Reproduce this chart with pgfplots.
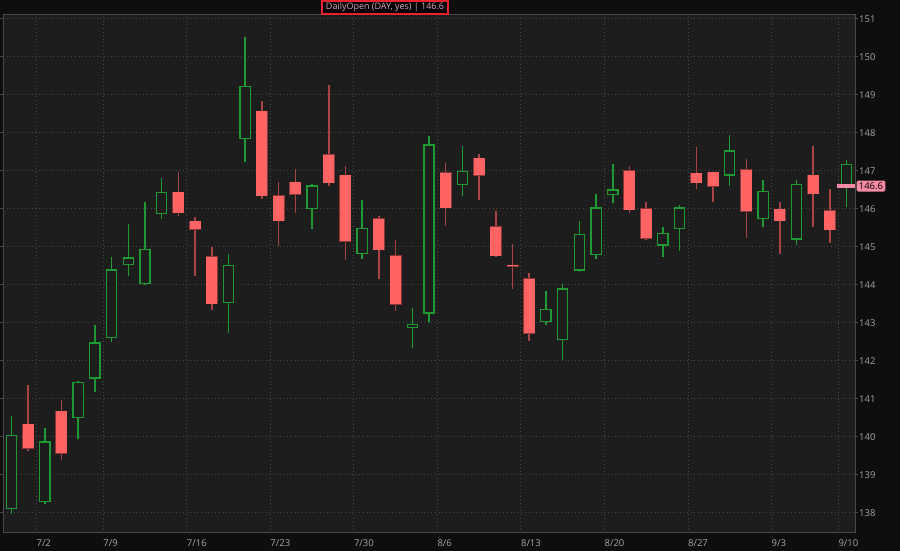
\documentclass[border=0pt]{standalone}
\usepackage{fontspec}
\setmainfont{Open Sans}
\usepackage{pgfplots}
\pgfplotsset{compat=1.18}
\usepackage{pgfplotstable}
\definecolor{outerbg}{HTML}{0E0E0E}
\definecolor{plotbg}{HTML}{1D1D1D}
\definecolor{gridc}{HTML}{464646}
\definecolor{axisgray}{HTML}{4A4A4A}
\definecolor{ticklab}{HTML}{A5A5A5}
\definecolor{upc}{HTML}{1E9A33}
\definecolor{wickred}{HTML}{A84444}
\definecolor{downc}{HTML}{FF6363}
\definecolor{downedge}{HTML}{8A3636}
\definecolor{pinkc}{HTML}{F48AA3}
\definecolor{headred}{HTML}{E8232B}
\definecolor{headtext}{HTML}{E0A4C4}

% index: 0 = 6/28, 2 = 7/2, ..., 50 = 9/10
\pgfplotstableread{
x o h l c
0 138.10 140.55 137.97 140.05
2 138.28 140.24 138.23 139.88
4 140.49 141.46 139.94 141.44
5 141.53 142.95 141.18 142.49
6 142.60 144.74 142.50 144.41
7 144.52 145.61 144.24 144.72
8 144.01 146.18 143.99 144.94
9 145.86 146.82 145.74 146.44
13 143.52 144.81 142.73 144.52
14 147.84 150.53 147.24 149.24
18 145.99 146.65 145.48 146.62
21 144.81 146.24 144.69 145.49
24 142.86 143.38 142.33 142.97
25 143.24 147.92 143.01 147.70
27 146.63 147.64 146.34 147.00
32 143.02 143.83 142.93 143.37
33 142.55 144.01 142.01 143.91
34 144.37 145.68 144.35 145.35
35 144.79 146.39 144.69 146.04
36 146.36 147.17 146.14 146.51
39 145.03 145.52 144.74 145.36
40 145.47 146.09 144.88 146.04
43 146.87 147.94 146.59 147.54
45 145.73 146.77 145.53 146.48
47 145.19 146.76 145.05 146.66
50 146.60 147.29 146.06 147.18
}\uptable

\pgfplotstableread{
x o h l c
1 140.33 141.37 139.62 139.70
3 140.67 140.96 139.38 139.57
10 146.44 146.97 145.80 145.90
11 145.68 145.78 144.22 145.46
12 144.74 145.00 143.33 143.50
15 148.57 148.85 146.26 146.34
16 146.35 146.70 145.01 145.68
17 146.70 147.04 145.90 146.38
19 147.42 149.26 146.61 146.69
20 146.89 147.13 144.66 145.15
22 145.74 145.82 144.15 144.92
23 144.76 145.19 143.32 143.49
26 146.95 147.20 145.56 146.03
28 147.33 147.43 146.22 146.88
29 145.53 145.95 144.72 144.77
30 144.52 145.08 143.88 144.49
31 144.16 144.31 142.53 142.72
37 147.00 147.12 145.88 145.97
38 146.00 146.18 145.18 145.23
41 146.94 147.63 146.52 146.68
42 146.96 146.98 146.18 146.59
44 147.03 147.30 145.24 145.94
46 145.99 146.19 144.80 145.68
48 146.89 147.66 145.53 146.39
49 145.95 146.52 145.11 145.45
}\downtable

\pgfplotsset{
  candle/.style 2 args={draw=none, mark=none,
    error bars/y dir=plus, error bars/y explicit,
    error bars/error mark=none,
    error bars/error bar style={draw=#2, line width=#1, solid}},
}

\begin{document}
\begin{tikzpicture}
\useasboundingbox (0,0) rectangle (900bp,551bp);
\fill[outerbg] (0,0) rectangle (900bp,551bp);
\begin{axis}[
  at={(3bp,18bp)}, anchor=south west,
  scale only axis, width=852bp, height=518bp,
  xmin=-0.5, xmax=50.5, ymin=137.47, ymax=151.1,
  axis background/.style={fill=plotbg},
  axis line style={draw=axisgray, line width=1bp},
  xtick={1.5,5.5,10.5,15.5,20.5,25.5,30.5,35.5,40.5,45.5,49.5},
  xticklabels={7/2,7/9,7/16,7/23,7/30,8/6,8/13,8/20,8/27,9/3,9/10},
  xticklabel style={anchor=north west, inner xsep=0pt, inner ysep=0pt, yshift=-3bp},
  ytick={138,139,...,151},
  yticklabel pos=right,
  yticklabel style={anchor=west, inner xsep=1bp},
  tick label style={font=\fontsize{9.5}{10}\selectfont, text=ticklab},
  /pgf/number format/assume math mode=true,
  grid=major,
  grid style={gridc, line width=0.8bp, dash pattern=on 1bp off 2.6bp},
  tick align=outside,
  x tick style={draw=none},
  y tick style={draw=axisgray, line width=0.8bp},
  major tick length=3bp,
]
% up candles: wick, outer body, hollow interior
\addplot[candle={1.5bp}{upc}] table[x=x, y=l, y error plus expr=\thisrow{h}-\thisrow{l}] {\uptable};
\addplot[candle={11.5bp}{upc}] table[x=x, y=o, y error plus expr=\thisrow{c}-\thisrow{o}] {\uptable};
\addplot[candle={8.9bp}{plotbg}] table[x=x, y expr=\thisrow{o}+0.034, y error plus expr=\thisrow{c}-\thisrow{o}-0.068] {\uptable};
% down candles: wick, thin dark edge, filled body
\addplot[candle={1.5bp}{wickred}] table[x=x, y=l, y error plus expr=\thisrow{h}-\thisrow{l}] {\downtable};
\addplot[candle={12bp}{downedge}] table[x=x, y expr=\thisrow{c}-0.012, y error plus expr=\thisrow{o}-\thisrow{c}+0.024] {\downtable};
\addplot[candle={11bp}{downc}] table[x=x, y=c, y error plus expr=\thisrow{o}-\thisrow{c}] {\downtable};
% daily open
\addplot[pinkc, line width=3.3bp] coordinates {(49.45,146.6) (50.5,146.6)};
\coordinate (pb) at (axis cs:50.5,146.6);
\end{axis}
\node[fill=pinkc, rounded corners=1.5bp, inner xsep=2.2bp, inner ysep=2bp, anchor=west,
      font=\fontsize{9.5}{10}\selectfont, text=black] at ([xshift=1.5bp]pb) {146.6};
\node[draw=headred, line width=1.3bp, fill=black, text=headtext, minimum width=126bp,
      minimum height=13bp, inner sep=0pt, font=\fontsize{9}{9}\selectfont]
      at (385bp,543.5bp) {DailyOpen (DAY, yes) | 146.6};
\end{tikzpicture}
\end{document}
